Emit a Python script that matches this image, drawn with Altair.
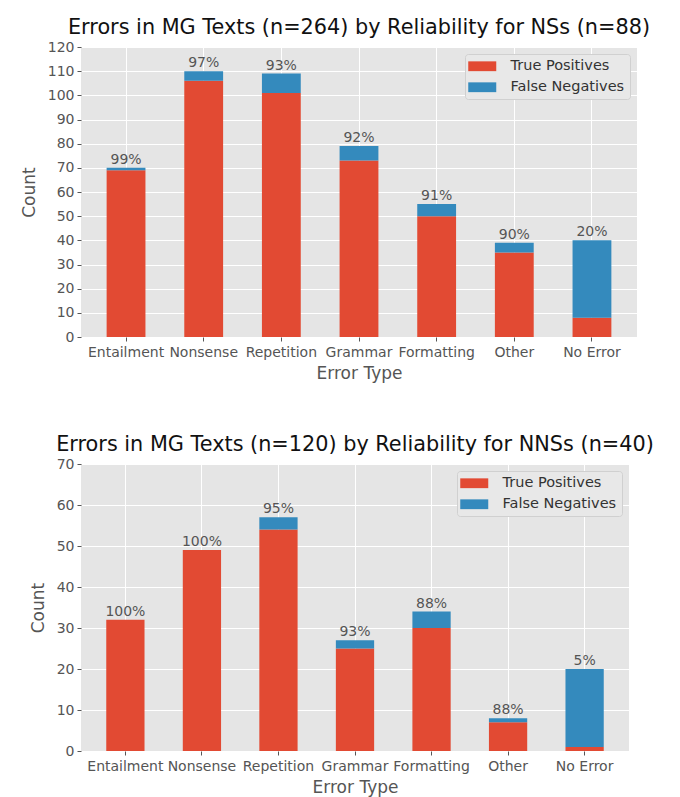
import altair as alt
import pandas as pd

categories = ["Entailment", "Nonsense", "Repetition", "Grammar", "Formatting", "Other", "No Error"]
series = ["True Positives", "False Negatives"]
colors = ["#E24A33", "#348ABD"]

ns_true_pos = [69, 106, 101, 73, 50, 35, 8]
ns_false_neg = [1, 4, 8, 6, 5, 4, 32]
ns_pct = ["99%", "97%", "93%", "92%", "91%", "90%", "20%"]

nns_true_pos = [32, 49, 54, 25, 30, 7, 1]
nns_false_neg = [0, 0, 3, 2, 4, 1, 19]
nns_pct = ["100%", "100%", "95%", "93%", "88%", "88%", "5%"]

FONT = "DejaVu Sans"
GRAY = "#555555"


def panel(tp, fn, pct, title, ymax, w, h):
    rows = []
    for c, a, b in zip(categories, tp, fn):
        rows.append({"cat": c, "series": series[0], "count": a, "ord": 0})
        rows.append({"cat": c, "series": series[1], "count": b, "ord": 1})
    bars_df = pd.DataFrame(rows)
    lab_df = pd.DataFrame({"cat": categories,
                           "total": [a + b for a, b in zip(tp, fn)],
                           "pct": pct})
    x_scale = alt.Scale(paddingInner=0.5, paddingOuter=0.33)
    y_scale = alt.Scale(domain=[0, ymax], nice=False)
    x_axis = alt.Axis(title="Error Type", labelAngle=0, bandPosition=0.5)
    y_axis = alt.Axis(title="Count", values=list(range(0, ymax + 1, 10)),
                      labelOverlap=False)
    bars = alt.Chart(bars_df).mark_bar().encode(
        x=alt.X("cat:N", sort=categories, scale=x_scale, axis=x_axis),
        y=alt.Y("count:Q", stack="zero", scale=y_scale, axis=y_axis),
        color=alt.Color("series:N", sort=series,
                        scale=alt.Scale(domain=series, range=colors),
                        legend=alt.Legend(title=None, orient="top-right", offset=7,
                                          symbolType="M-2,-0.7H2V0.7H-2Z",
                                          symbolSize=196, symbolStrokeWidth=0,
                                          symbolOffset=5, labelOffset=21,
                                          labelFontSize=14.5, labelFont=FONT,
                                          labelColor="#333333",
                                          fillColor="#E8E8E8", strokeColor="#D0D0D0",
                                          padding=5, rowPadding=6, cornerRadius=3)),
        order=alt.Order("ord:Q"),
    )
    text = alt.Chart(lab_df).mark_text(baseline="bottom", dy=-1, fontSize=14,
                                       font=FONT, color=GRAY).encode(
        x=alt.X("cat:N", sort=categories, scale=x_scale, axis=x_axis),
        y=alt.Y("total:Q", scale=y_scale, axis=y_axis),
        text="pct:N",
    )
    return alt.layer(bars, text).properties(
        width=w, height=h,
        title=alt.TitleParams(title, fontSize=20.8, font=FONT, fontWeight="normal",
                              color="#111111", offset=1, frame="group"),
    )


top = panel(ns_true_pos, ns_false_neg, ns_pct,
            "Errors in MG Texts (n=264) by Reliability for NSs (n=88)", 120, 556, 290)
bottom = panel(nns_true_pos, nns_false_neg, nns_pct,
               "Errors in MG Texts (n=120) by Reliability for NNSs (n=40)", 70, 548, 287)

chart = alt.vconcat(top, bottom, spacing=53).resolve_scale(
    color="independent", x="independent", y="independent"
).resolve_legend(color="independent").configure_view(
    fill="#E5E5E5", stroke=None
).configure_axis(
    grid=True, gridColor="white", gridWidth=1, domain=False,
    tickColor=GRAY, tickSize=4, tickWidth=1,
    labelFont=FONT, labelFontSize=14, labelColor=GRAY, labelPadding=3,
    titleFont=FONT, titleFontSize=17, titleFontWeight="normal", titleColor=GRAY,
).configure_axisX(titlePadding=6, labelPadding=4).configure_axisY(titlePadding=9).properties(
    padding={"left": 12, "top": 9, "right": 5, "bottom": 5}
)

chart.save("out.html", embed_options={"renderer": "svg", "actions": False})
